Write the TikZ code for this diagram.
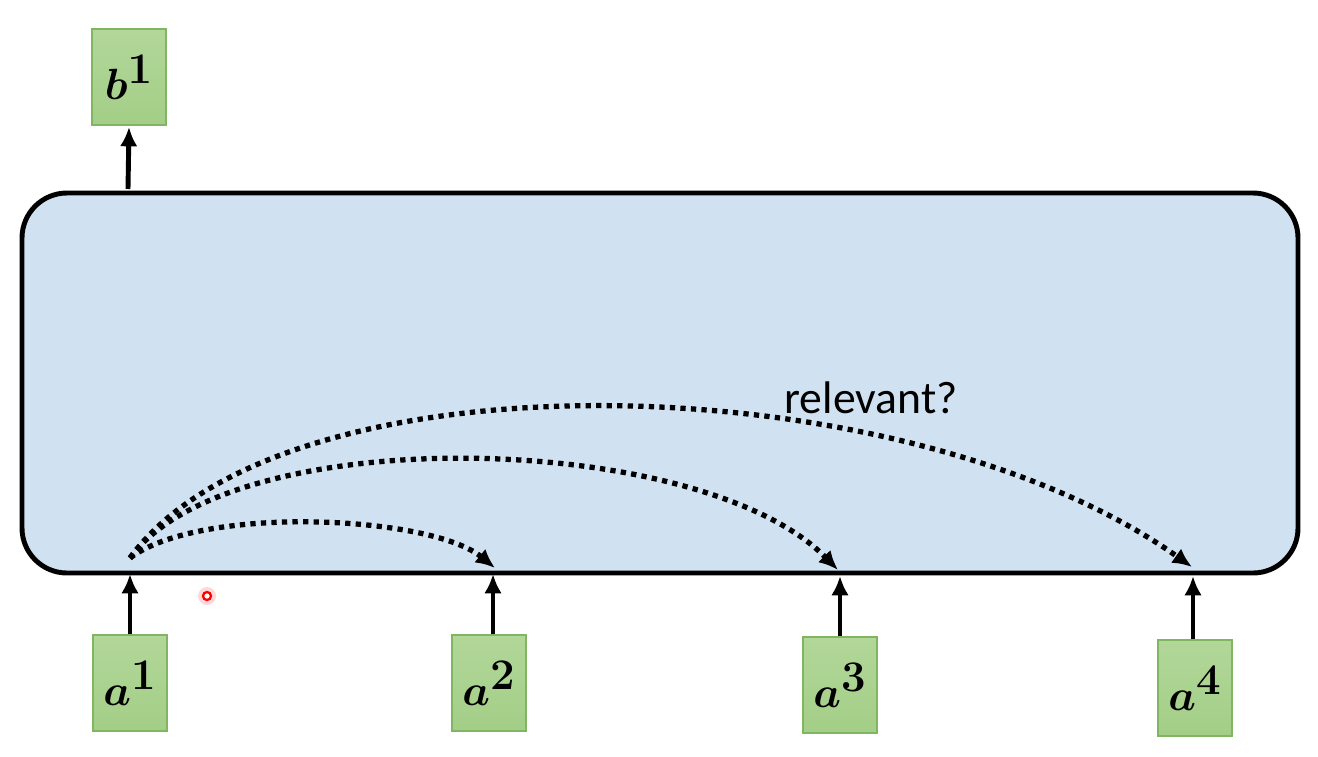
\documentclass[tikz,border=0pt]{standalone}
\usepackage{bm}
\usepackage{fontspec}
\newfontfamily\labelfont{Carlito}
\usetikzlibrary{arrows.meta}
\tikzset{>={Latex[length=11pt,width=10pt]}}
\definecolor{boxblue}{RGB}{208,226,242}
\definecolor{vecgreen}{RGB}{163,206,135}
\definecolor{vecgreentop}{RGB}{178,215,153}
\definecolor{vecedge}{RGB}{128,181,98}
\tikzset{
  vec/.style={rectangle, draw=vecedge, line width=0.6pt,
    top color=vecgreentop, bottom color=vecgreen,
    minimum width=1.48cm, minimum height=1.92cm, inner sep=0pt,
    font=\fontsize{42}{46}\selectfont},
  attn/.style={->, line width=3pt, dash pattern=on 3pt off 3pt}
}

\begin{document}
\begin{tikzpicture}[x=0.02cm, y=-0.02cm]
  \useasboundingbox (0,0) rectangle (1318,757);
  \draw[fill=boxblue, line width=2.8pt, rounded corners=0.9cm]
    (22,193) rectangle (1298,573);
  \coordinate (top) at (128,189);
  \coordinate (src) at (130,558);
  \coordinate (t2) at (495,568);
  \coordinate (t3) at (838,570);
  \coordinate (t4) at (1192,567);
  \node[vec] (b1) at (129,77) {$\bm{b}^{\bm{1}}$};
  \node[vec] (a1) at (130,683) {$\bm{a}^{\bm{1}}$};
  \node[vec] (a2) at (489,683) {$\bm{a}^{\bm{2}}$};
  \node[vec] (a3) at (840,685) {$\bm{a}^{\bm{3}}$};
  \node[vec] (a4) at (1195,688) {$\bm{a}^{\bm{4}}$};
  \draw[->, line width=2.8pt] (top) -- (b1.south |- 0,127);
  \draw[->, line width=2.8pt] (a1.north) -- (130,574);
  \draw[->, line width=2.8pt] (a1.north -| 493,0) -- (493,574);
  \draw[->, line width=2.8pt] (a3.north) -- (840,576);
  \draw[->, line width=2.8pt] (a4.north -| 1193,0) -- (1193,576);
  \draw[attn] (src) .. controls (200,505) and (430,515) .. (t2);
  \draw[attn] (src) .. controls (230,420) and (700,430) .. (t3);
  \draw[attn] (src) .. controls (280,350) and (900,360) .. (t4);
  \node[font=\labelfont\fontsize{26}{30}\selectfont] (rel) at (871,398) {relevant?};
  % laser pointer
  \fill[red!25, opacity=0.6] (207,596) circle (9);
  \draw[red, line width=1.3pt, fill=white] (207,596) circle (4);
\end{tikzpicture}
\end{document}
